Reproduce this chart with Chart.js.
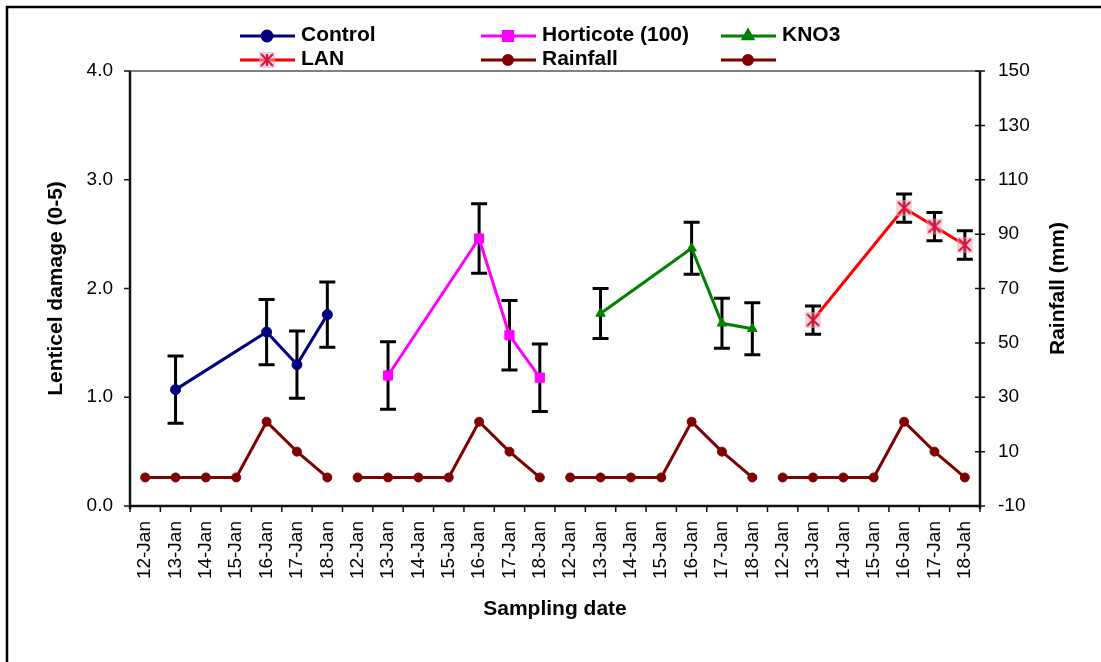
<!DOCTYPE html>
<html>
<head>
<meta charset="utf-8">
<script src="https://cdn.jsdelivr.net/npm/chart.js@4.4.1/dist/chart.umd.min.js"></script>
<style>
  html, body { margin: 0; padding: 0; background: #fff; }
  #wrap { width: 1101px; height: 662px; position: relative; }
</style>
</head>
<body>
<div id="wrap"><canvas id="chart" width="1101" height="662"></canvas></div>
<script>
// sampling dates, four blocks of seven days (last label typo kept as in the source)
const dates = [
    '12-Jan', '13-Jan', '14-Jan', '15-Jan', '16-Jan', '17-Jan', '18-Jan',
    '12-Jan', '13-Jan', '14-Jan', '15-Jan', '16-Jan', '17-Jan', '18-Jan',
    '12-Jan', '13-Jan', '14-Jan', '15-Jan', '16-Jan', '17-Jan', '18-Jan',
    '12-Jan', '13-Jan', '14-Jan', '15-Jan', '16-Jan', '17-Jan', '18-Jah'
];

const control = [null, 1.07, null, null, 1.60, 1.30, 1.76,
    null, null, null, null, null, null, null,
    null, null, null, null, null, null, null,
    null, null, null, null, null, null, null];
const controlErr = [null, 0.31, null, null, 0.30, 0.31, 0.30,
    null, null, null, null, null, null, null,
    null, null, null, null, null, null, null,
    null, null, null, null, null, null, null];

const horticote = [null, null, null, null, null, null, null,
    null, 1.20, null, null, 2.46, 1.57, 1.18,
    null, null, null, null, null, null, null,
    null, null, null, null, null, null, null];
const horticoteErr = [null, null, null, null, null, null, null,
    null, 0.31, null, null, 0.32, 0.32, 0.31,
    null, null, null, null, null, null, null,
    null, null, null, null, null, null, null];

const kno3 = [null, null, null, null, null, null, null,
    null, null, null, null, null, null, null,
    null, 1.77, null, null, 2.37, 1.68, 1.63,
    null, null, null, null, null, null, null];
const kno3Err = [null, null, null, null, null, null, null,
    null, null, null, null, null, null, null,
    null, 0.23, null, null, 0.24, 0.23, 0.24,
    null, null, null, null, null, null, null];

const lan = [null, null, null, null, null, null, null,
    null, null, null, null, null, null, null,
    null, null, null, null, null, null, null,
    null, 1.71, null, null, 2.74, 2.57, 2.40];
const lanErr = [null, null, null, null, null, null, null,
    null, null, null, null, null, null, null,
    null, null, null, null, null, null, null,
    null, 0.13, null, null, 0.13, 0.13, 0.13];

const rainfall = [0.5, 0.5, 0.5, 0.5, 21, 10, 0.5,
    0.5, 0.5, 0.5, 0.5, 21, 10, 0.5,
    0.5, 0.5, 0.5, 0.5, 21, 10, 0.5,
    0.5, 0.5, 0.5, 0.5, 21, 10, 0.5];

const leftTicks = [0, 1, 2, 3, 4];
const rightTicks = [-10, 10, 30, 50, 70, 90, 110, 130, 150];

Chart.defaults.font.family = '"Liberation Sans", Arial, sans-serif';
Chart.defaults.color = '#000';

// LAN marker: pale pink square with a red asterisk
function lanMarker(){
    const c = document.createElement( 'canvas' );
    c.width = 18;
    c.height = 18;
    const g = c.getContext( '2d' );
    g.fillStyle = 'rgba(240,170,190,0.55)';
    g.fillRect( 1, 1, 16, 16 );
    g.strokeStyle = '#d4143c';
    g.lineWidth = 2;
    g.beginPath();
    g.moveTo( 3, 3 ); g.lineTo( 15, 15 );
    g.moveTo( 15, 3 ); g.lineTo( 3, 15 );
    g.moveTo( 9, 3 ); g.lineTo( 9, 15 );
    g.stroke();
    return c;
}
const lanPoint = lanMarker();

const errorBars = {
    id: 'errorBars',
    beforeDatasetsDraw( chart ){
        const ctx = chart.ctx;
        const y = chart.scales.y;
        chart.data.datasets.forEach( function( ds, i ){
            if ( !ds.errors ) return;
            const meta = chart.getDatasetMeta( i );
            ctx.save();
            ctx.strokeStyle = '#000';
            ctx.lineWidth = 3;
            ds.data.forEach( function( v, j ){
                if ( v == null || ds.errors[j] == null ) return;
                const x = meta.data[j].x;
                const top = y.getPixelForValue( v + ds.errors[j] );
                const bot = y.getPixelForValue( v - ds.errors[j] );
                ctx.beginPath();
                ctx.moveTo( x, top ); ctx.lineTo( x, bot );
                ctx.moveTo( x - 8, top ); ctx.lineTo( x + 8, top );
                ctx.moveTo( x - 8, bot ); ctx.lineTo( x + 8, bot );
                ctx.stroke();
            } );
            ctx.restore();
        } );
    }
};

const frame = {
    id: 'frame',
    beforeDatasetsDraw( chart ){
        const ctx = chart.ctx;
        const a = chart.chartArea;
        const x = chart.scales.x, y = chart.scales.y, y1 = chart.scales.y1;
        ctx.save();
        // outer border
        ctx.strokeStyle = '#000';
        ctx.lineWidth = 2.5;
        ctx.beginPath();
        ctx.moveTo( 7, 662 ); ctx.lineTo( 7, 7 ); ctx.lineTo( 1101, 7 );
        ctx.stroke();
        // top edge of plot
        ctx.strokeStyle = '#808080';
        ctx.lineWidth = 2;
        ctx.beginPath();
        ctx.moveTo( a.left, a.top ); ctx.lineTo( a.right, a.top );
        ctx.stroke();
        // axes
        ctx.strokeStyle = '#111';
        ctx.lineWidth = 2.5;
        ctx.beginPath();
        ctx.moveTo( a.left, a.top ); ctx.lineTo( a.left, a.bottom + 3 );
        ctx.moveTo( a.right, a.top ); ctx.lineTo( a.right, a.bottom + 3 );
        ctx.moveTo( a.left, a.bottom ); ctx.lineTo( a.right, a.bottom );
        ctx.stroke();
        ctx.lineWidth = 1.5;
        ctx.beginPath();
        leftTicks.forEach( function( v ){
            const p = y.getPixelForValue( v );
            ctx.moveTo( a.left - 6, p ); ctx.lineTo( a.left, p );
        } );
        rightTicks.forEach( function( v ){
            const p = y1.getPixelForValue( v );
            ctx.moveTo( a.right - 5, p ); ctx.lineTo( a.right + 5, p );
        } );
        const step = ( a.right - a.left ) / dates.length;
        for ( let i = 0; i <= dates.length; i++ ){
            const p = a.left + i * step;
            ctx.moveTo( p, a.bottom ); ctx.lineTo( p, a.bottom + 6 );
        }
        ctx.stroke();
        ctx.restore();
    },
    afterDraw( chart ){
        const ctx = chart.ctx;
        const a = chart.chartArea;
        ctx.save();
        ctx.fillStyle = '#000';
        ctx.font = 'bold 21px "Liberation Sans", Arial, sans-serif';
        ctx.translate( 1058, ( a.top + a.bottom ) / 2 );
        ctx.rotate( -Math.PI / 2 );
        ctx.textAlign = 'center';
        ctx.textBaseline = 'middle';
        ctx.fillText( 'Rainfall (mm)', 0, 0 );
        ctx.restore();
    }
};

// legend laid out in three columns like the original
const legendCols = [240, 481, 721];
const legendRows = [36, 60];
const legendBox = {
    id: 'legendBox',
    afterDraw( chart ){
        const ctx = chart.ctx;
        const ds = chart.data.datasets;
        const items = [
            { d: ds[0], label: 'Control' },
            { d: ds[1], label: 'Horticote (100)' },
            { d: ds[2], label: 'KNO3' },
            { d: ds[3], label: 'LAN' },
            { d: ds[4], label: 'Rainfall' },
            { d: ds[4], label: '' }
        ];
        ctx.save();
        ctx.font = 'bold 21px "Liberation Sans", Arial, sans-serif';
        ctx.textBaseline = 'middle';
        items.forEach( function( it, i ){
            const x0 = legendCols[i % 3];
            const yy = legendRows[Math.floor( i / 3 )];
            ctx.strokeStyle = it.d.borderColor;
            ctx.fillStyle = it.d.backgroundColor;
            ctx.lineWidth = 3;
            ctx.beginPath();
            ctx.moveTo( x0, yy ); ctx.lineTo( x0 + 55, yy );
            ctx.stroke();
            Chart.helpers.drawPoint( ctx, {
                pointStyle: it.d.pointStyle,
                radius: it.d.pointRadius,
                borderWidth: 1,
                rotation: 0
            }, x0 + 27, yy );
            ctx.fillStyle = '#000';
            ctx.fillText( it.label, x0 + 61, yy - 1 );
        } );
        ctx.restore();
    }
};

const seriesLine = function( label, values, errors, color, style, radius ){
    return {
        label: label,
        data: values,
        errors: errors,
        yAxisID: 'y',
        borderColor: color,
        backgroundColor: color,
        borderWidth: 3,
        pointStyle: style,
        pointRadius: radius,
        pointHoverRadius: radius,
        pointBorderWidth: 1,
        spanGaps: true,
        tension: 0
    };
};

new Chart( document.getElementById( 'chart' ), {
    type: 'line',
    data: {
        labels: dates,
        datasets: [
            seriesLine( 'Control', control, controlErr, '#000080', 'circle', 5 ),
            seriesLine( 'Horticote (100)', horticote, horticoteErr, '#ff00ff', 'rect', 6.5 ),
            seriesLine( 'KNO3', kno3, kno3Err, '#008000', 'triangle', 5.5 ),
            Object.assign( seriesLine( 'LAN', lan, lanErr, '#ff0000', lanPoint, 8 ), { backgroundColor: '#ff0000' } ),
            {
                label: 'Rainfall',
                data: rainfall,
                yAxisID: 'y1',
                borderColor: '#800000',
                backgroundColor: '#800000',
                borderWidth: 3,
                pointStyle: 'circle',
                pointRadius: 4.5,
                pointBorderWidth: 1,
                tension: 0,
                segment: {
                    // break the line between the four date blocks
                    borderColor: function( c ){
                        return ( c.p0DataIndex % 7 === 6 ) ? 'rgba(0,0,0,0)' : '#800000';
                    }
                }
            }
        ]
    },
    options: {
        responsive: false,
        devicePixelRatio: 1,
        animation: false,
        layout: { padding: { top: 71, left: 0, right: 0, bottom: 0 } },
        plugins: {
            legend: { display: false },
            tooltip: { enabled: false }
        },
        scales: {
            x: {
                type: 'category',
                offset: true,
                grid: { display: false, drawTicks: false },
                border: { display: false },
                ticks: {
                    autoSkip: false,
                    minRotation: 90,
                    maxRotation: 90,
                    padding: 15,
                    font: { size: 19 }
                },
                title: {
                    display: true,
                    text: 'Sampling date',
                    font: { size: 21, weight: 'bold' },
                    padding: { top: 0, bottom: 40 }
                },
                afterFit: function( s ){ s.height = 156; }
            },
            y: {
                position: 'left',
                min: 0,
                max: 4,
                grid: { display: false, drawTicks: false },
                border: { display: false },
                afterBuildTicks: function( s ){
                    s.ticks = leftTicks.map( function( v ){ return { value: v }; } );
                },
                ticks: {
                    padding: 17,
                    font: { size: 19 },
                    callback: function( v ){ return Number( v ).toFixed( 1 ); }
                },
                title: {
                    display: true,
                    text: 'Lenticel damage (0-5)',
                    font: { size: 21, weight: 'bold' },
                    padding: { top: 44, bottom: 0 }
                },
                afterFit: function( s ){ s.width = 130; }
            },
            y1: {
                position: 'right',
                min: -10,
                max: 150,
                grid: { display: false, drawTicks: false },
                border: { display: false },
                afterBuildTicks: function( s ){
                    s.ticks = rightTicks.map( function( v ){ return { value: v }; } );
                },
                ticks: {
                    padding: 18,
                    font: { size: 19 }
                },
                afterFit: function( s ){ s.width = 121; }
            }
        }
    },
    plugins: [ frame, errorBars, legendBox ]
} );
</script>
</body>
</html>
